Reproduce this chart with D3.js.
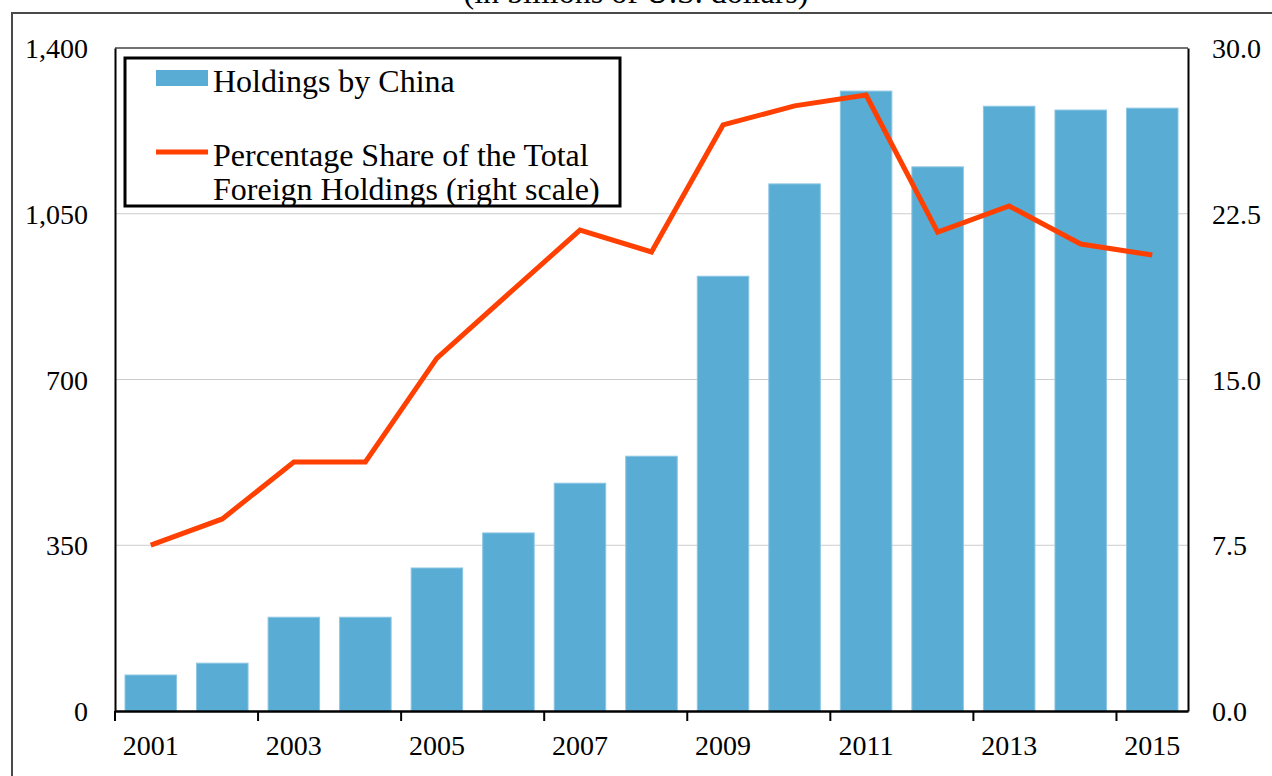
<!DOCTYPE html>
<html>
<head>
<meta charset="utf-8">
<script src="https://cdn.jsdelivr.net/npm/d3@7"></script>
<style>
  html, body { margin: 0; padding: 0; background: #fff; }
  svg { display: block; }
  text { font-family: "Liberation Serif", "Times New Roman", serif; fill: #000; }
</style>
</head>
<body>
<svg id="chart" width="1272" height="776"></svg>
<script>
const years = [2001, 2002, 2003, 2004, 2005, 2006, 2007, 2008, 2009, 2010, 2011, 2012, 2013, 2014, 2015];
const holdings = [76, 101, 198, 198, 302, 376, 481, 538, 918, 1113, 1309, 1149, 1277, 1269, 1273];
const sharePct = [7.51, 8.69, 11.27, 11.27, 15.97, 18.87, 21.76, 20.77, 26.52, 27.38, 27.87, 21.67, 22.85, 21.13, 20.63];
const leftTicks = [0, 350, 700, 1050, 1400];
const rightTicks = [0, 7.5, 15, 22.5, 30];
const labelYears = [2001, 2003, 2005, 2007, 2009, 2011, 2013, 2015];
const subtitle = "(in billions of U.S. dollars)";
const legendBar = "Holdings by China";
const legendLine = ["Percentage Share of the Total", "Foreign Holdings (right scale)"];

const svg = d3.select("#chart");
const L = 115, R = 1188, T = 48, B = 711;

const x = d3.scaleBand().domain(years).range([L, R]).paddingInner(0.28).paddingOuter(0.14);
const xc = d3.scaleBand().domain(years).range([L, R]);
const yL = d3.scaleLinear().domain([0, 1400]).range([B, T]);
const yR = d3.scaleLinear().domain([0, 30]).range([B, T]);

// subtitle (cut off at top, as in the reference)
svg.append("text").attr("x", 636).attr("y", 3).attr("text-anchor", "middle")
  .style("font-size", "32px").text(subtitle);

// outer frame
svg.append("path").attr("d", `M12,776 V13 H1272`).attr("fill", "none")
  .attr("stroke", "#4a4a4a").attr("stroke-width", 2);

// gridlines
svg.append("g").selectAll("line").data(leftTicks.filter(d => d > 0 && d < 1400)).join("line")
  .attr("x1", L).attr("x2", R).attr("y1", d => yL(d)).attr("y2", d => yL(d))
  .attr("stroke", "#cccccc").attr("stroke-width", 1);

// plot top border
svg.append("line").attr("x1", L).attr("x2", R).attr("y1", T).attr("y2", T)
  .attr("stroke", "#444").attr("stroke-width", 1.5);

// bars
svg.append("g").selectAll("rect").data(years).join("rect")
  .attr("x", d => x(d)).attr("width", x.bandwidth())
  .attr("y", (d, i) => yL(holdings[i])).attr("height", (d, i) => B - yL(holdings[i]))
  .attr("fill", "#59acd4").attr("stroke", "#8cc6e3").attr("stroke-width", 1);

// line
const line = d3.line().x((d, i) => xc(years[i]) + xc.bandwidth() / 2).y(d => yR(d));
svg.append("path").datum(sharePct).attr("d", line).attr("fill", "none")
  .attr("stroke", "#ff4000").attr("stroke-width", 5).attr("stroke-linejoin", "miter");

// left axis
const gl = svg.append("g").attr("transform", `translate(${L},0)`)
  .call(d3.axisLeft(yL).tickValues(leftTicks).tickSize(0).tickPadding(27).tickFormat(d3.format(",")));
gl.select(".domain").attr("stroke", "#000").attr("stroke-width", 2);
gl.selectAll("text").style("font-size", "28px").attr("dy", "0.34em");

// right axis
const gr = svg.append("g").attr("transform", `translate(${R},0)`)
  .call(d3.axisRight(yR).tickValues(rightTicks).tickSize(0).tickPadding(24).tickFormat(d3.format(".1f")));
gr.select(".domain").attr("stroke", "#000").attr("stroke-width", 2);
gr.selectAll("text").style("font-size", "28px").attr("dy", "0.34em");

// bottom axis
const gb = svg.append("g").attr("transform", `translate(0,${B})`)
  .call(d3.axisBottom(xc).tickValues(labelYears).tickSize(0).tickPadding(24));
gb.select(".domain").attr("stroke", "#000").attr("stroke-width", 2.5);
gb.selectAll("text").style("font-size", "28px").attr("dy", "0.71em");
// tick marks between categories, every two bands
const tickYears = years.filter((d, i) => i % 2 === 0);
gb.append("g").selectAll("line").data(tickYears).join("line")
  .attr("x1", d => xc(d)).attr("x2", d => xc(d)).attr("y1", 0).attr("y2", 10)
  .attr("stroke", "#000").attr("stroke-width", 2);

// legend
const lg = svg.append("g");
lg.append("rect").attr("x", 125).attr("y", 58).attr("width", 495).attr("height", 148)
  .attr("fill", "#fff").attr("stroke", "#000").attr("stroke-width", 3);
lg.append("rect").attr("x", 156).attr("y", 70).attr("width", 52).attr("height", 16).attr("fill", "#59acd4");
lg.append("text").attr("x", 213).attr("y", 92).style("font-size", "32px").text(legendBar);
lg.append("line").attr("x1", 156).attr("x2", 208).attr("y1", 152).attr("y2", 152)
  .attr("stroke", "#ff4000").attr("stroke-width", 5);
lg.selectAll("text.l2").data(legendLine).join("text").attr("class", "l2")
  .attr("x", 213).attr("y", (d, i) => 166 + i * 34).style("font-size", "32px").text(d => d);
</script>
</body>
</html>
